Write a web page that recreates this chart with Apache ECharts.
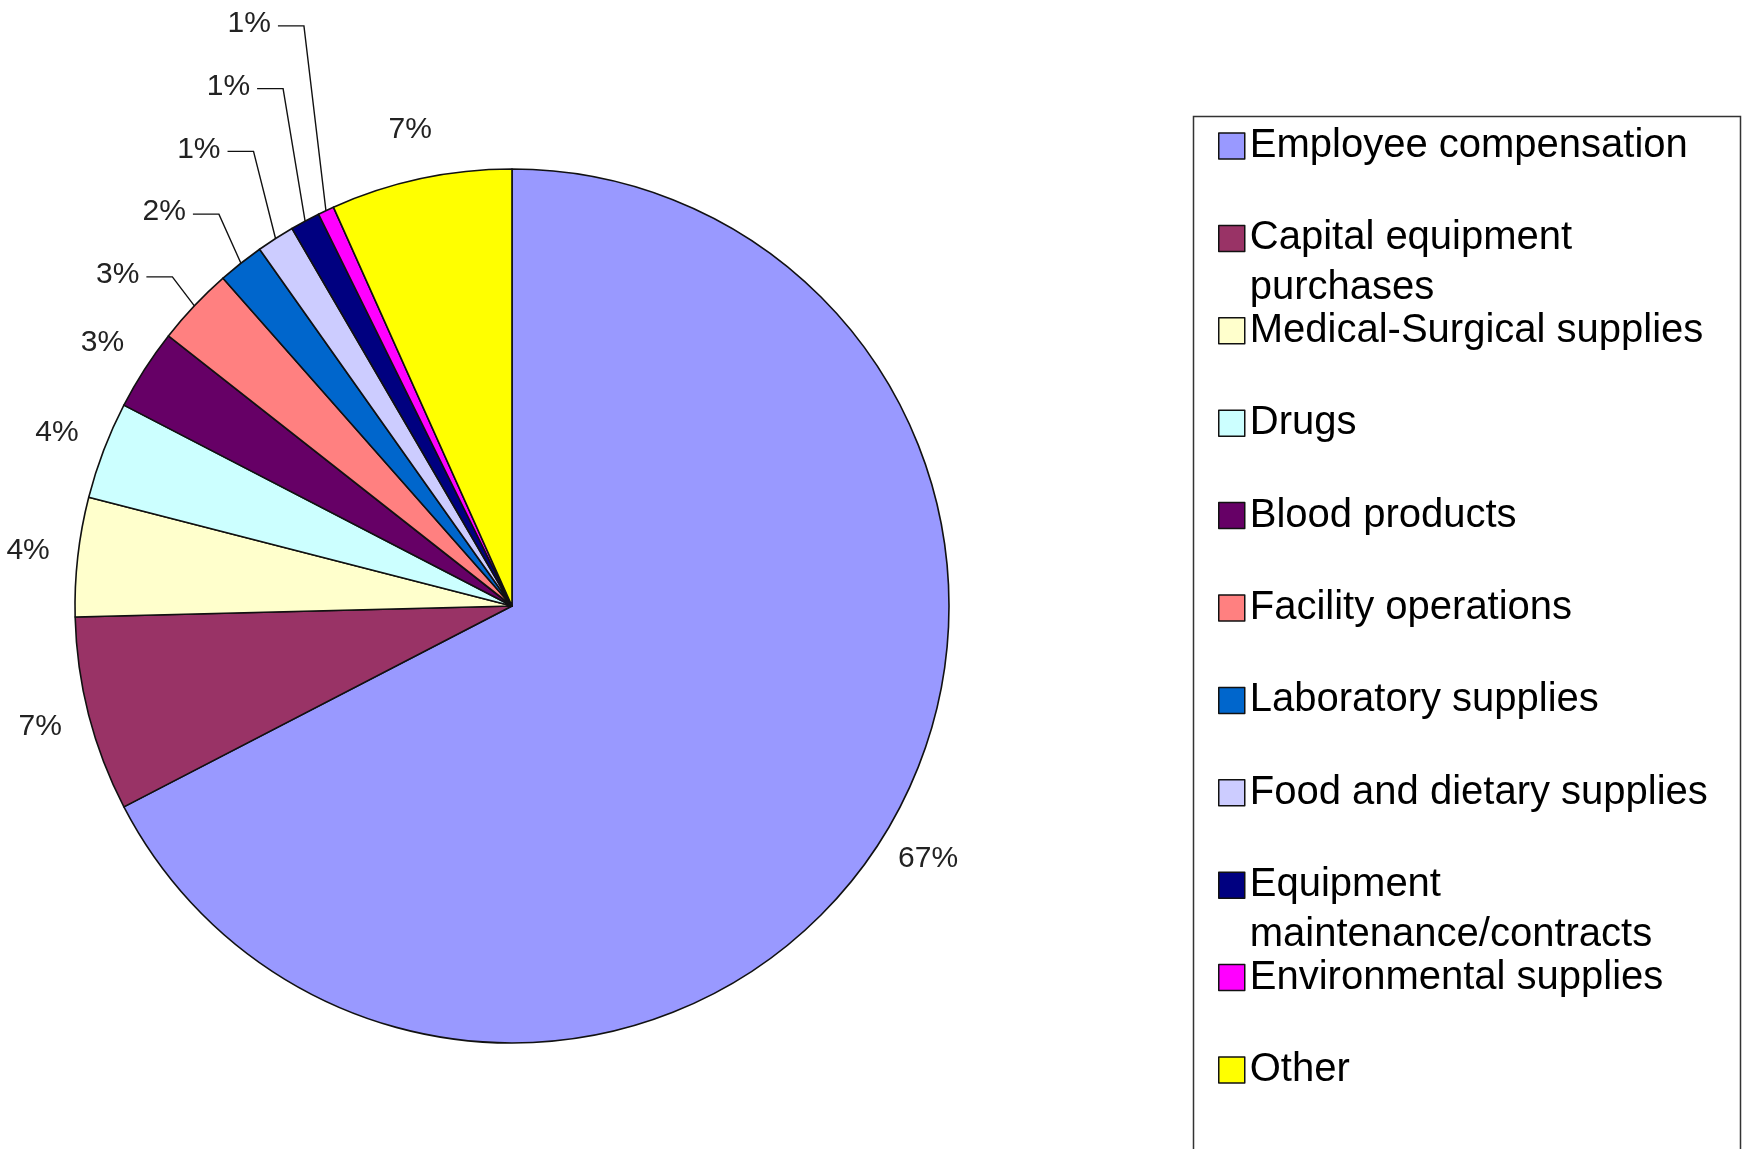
<!DOCTYPE html>
<html>
<head>
<meta charset="utf-8">
<script src="https://cdn.jsdelivr.net/npm/echarts@6/dist/echarts.min.js"></script>
<style>
  html, body { margin: 0; padding: 0; background: #ffffff; }
  #chart { width: 1743px; height: 1149px; }
</style>
</head>
<body>
<div id="chart"></div>
<script>
// Hospital expense categories and their share of total spending (%)
const categories = [
  'Employee compensation',
  'Capital equipment purchases',
  'Medical-Surgical supplies',
  'Drugs',
  'Blood products',
  'Facility operations',
  'Laboratory supplies',
  'Food and dietary supplies',
  'Equipment maintenance/contracts',
  'Environmental supplies',
  'Other'
];
const shares = [67.4, 7.2, 4.4, 3.6, 3.0, 2.9, 1.7, 1.4, 1.1, 0.6, 6.7];
const colors = [
  '#9999FF', '#993366', '#FFFFCC', '#CCFFFF', '#660066', '#FF8080',
  '#0066CC', '#CCCCFF', '#000080', '#FF00FF', '#FFFF00'
];
// Legend entries that wrap onto a second line
const legendLines = {
  'Capital equipment purchases': 'Capital equipment\npurchases',
  'Equipment maintenance/contracts': 'Equipment\nmaintenance/contracts'
};

// Pie geometry
const CX = 512, CY = 606, R = 437;
const LABEL_GAP = 50;      // free labels sit this far beyond the rim
const LEADER_LIMIT = 3;    // slices smaller than this get a leader line
const LEADER_STEP = 62.75; // vertical spacing of stacked leader labels
const LEGEND_LINE = 50;

const total = shares.reduce((a, b) => a + b, 0);
function midAngle(i) {
  let before = 0;
  for (let k = 0; k < i; k++) before += shares[k];
  return (before + shares[i] / 2) / total * Math.PI * 2;
}
function rimPoint(i, rr) {
  const a = midAngle(i);
  return [CX + rr * Math.sin(a), CY - rr * Math.cos(a)];
}
const leaderIdx = shares.map((v, i) => v < LEADER_LIMIT ? i : -1).filter(i => i >= 0);
const leaderBaseY = leaderIdx.length ? rimPoint(leaderIdx[0], R)[1] - 31 : 0;

const chart = echarts.init(document.getElementById('chart'), null, { renderer: 'canvas' });

const FONT = '"Liberation Sans", Arial, sans-serif';

const option = {
  backgroundColor: '#ffffff',
  animation: false,
  graphic: [{
    type: 'rect',
    silent: true,
    shape: { x: 1193.5, y: 116.5, width: 547, height: 1100 },
    style: { fill: 'none', stroke: '#333333', lineWidth: 1.5 }
  }],
  legend: {
    orient: 'vertical',
    left: 1218,
    top: 146 - LEGEND_LINE * 1.5,
    height: 2000,
    padding: 0,
    itemGap: 92.4 - LEGEND_LINE * 3,
    itemWidth: 26,
    itemHeight: 26,
    icon: 'rect',
    selectedMode: false,
    itemStyle: { borderColor: '#111111', borderWidth: 1.5 },
    // wrapped entries get an empty leading line so the first line sits beside the swatch
    formatter: name => legendLines[name] ? '\n' + legendLines[name] : name,
    data: categories.map(name => ({
      name: name,
      textStyle: {
        padding: legendLines[name] ? 0 : [LEGEND_LINE, 0, LEGEND_LINE, 0]
      }
    })),
    textStyle: {
      fontFamily: FONT,
      fontSize: 40,
      color: '#000000',
      lineHeight: LEGEND_LINE
    }
  },
  series: [{
    type: 'pie',
    center: [CX, CY],
    radius: R,
    startAngle: 90,
    clockwise: true,
    avoidLabelOverlap: false,
    emphasis: { disabled: true },
    itemStyle: { borderColor: '#111111', borderWidth: 1.6 },
    label: {
      show: true,
      position: 'outside',
      fontFamily: FONT,
      fontSize: 30,
      color: '#222222',
      formatter: p => Math.round(p.percent) + '%'
    },
    labelLine: {
      show: true,
      length: 10,
      length2: 10,
      smooth: false,
      lineStyle: { color: '#111111', width: 1.4 }
    },
    labelLayout: function (params) {
      const i = params.dataIndex;
      const w = params.labelRect.width;
      if (shares[i] < LEADER_LIMIT) {
        const k = leaderIdx.indexOf(i);
        const rim = rimPoint(i, R);
        const y = leaderBaseY - k * LEADER_STEP;
        const cornerX = rim[0] - 22;
        const startX = cornerX - 26;
        return {
          x: startX - 7 - w / 2,
          y: y,
          align: 'center',
          verticalAlign: 'middle',
          labelLinePoints: [rim, [cornerX, y + 2], [startX, y + 2]]
        };
      }
      const p = rimPoint(i, R + LABEL_GAP);
      return { x: p[0], y: p[1], align: 'center', verticalAlign: 'middle' };
    },
    data: categories.map((name, i) => ({
      name: name,
      value: shares[i],
      itemStyle: { color: colors[i] },
      labelLine: { show: shares[i] < LEADER_LIMIT }
    }))
  }]
};

chart.setOption(option);
</script>
</body>
</html>
